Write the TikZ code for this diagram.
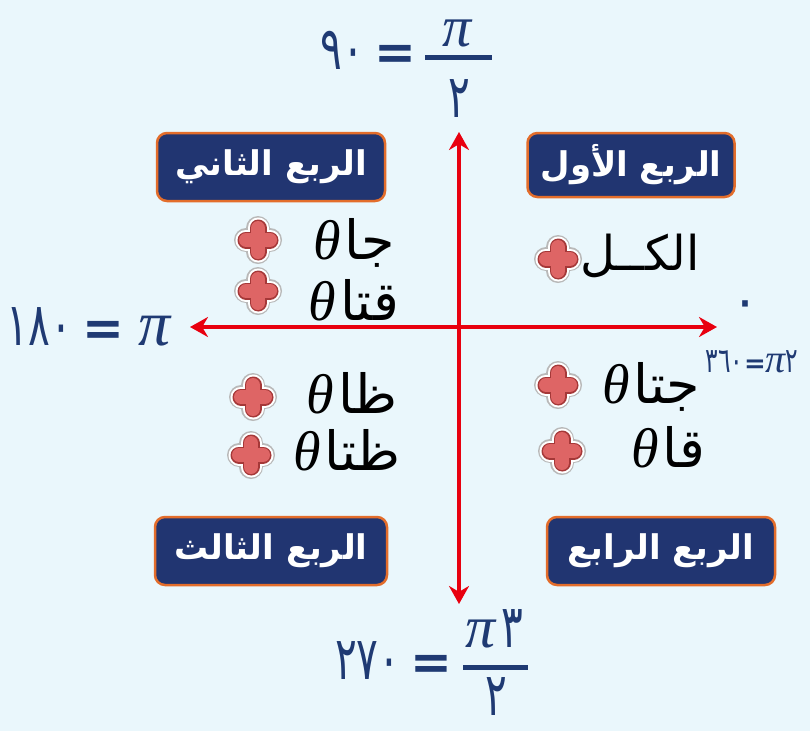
\documentclass[tikz,border=0pt]{standalone}
\usepackage{fontspec}
\usetikzlibrary{positioning, arrows.meta}
\TeXXeTstate=1
\newfontfamily\arabicfont[Script=Arabic]{DejaVu Sans}
\newfontfamily\greekfont{Liberation Serif}
\definecolor{bgblue}{HTML}{EAF7FC}
\definecolor{axisred}{HTML}{E8000F}
\definecolor{boxblue}{HTML}{213571}
\definecolor{boxedge}{HTML}{E36D2B}
\definecolor{labelblue}{HTML}{1F3A73}
\definecolor{plusred}{HTML}{DE6565}
\definecolor{plusdark}{HTML}{A53838}
\newcommand{\thetaglyph}{{\greekfont\mdseries\itshape\fontsize{56}{60}\selectfont θ}}
\newcommand{\piglyph}[1][64]{{\greekfont\mdseries\itshape\fontsize{#1}{#1}\selectfont π}}
\newcommand{\arb}[1]{{\arabicfont\beginR #1\endR}}
\newcommand{\arnum}[1]{\scalebox{0.78}[1.15]{#1}}

\begin{document}
\begin{tikzpicture}[
        x=1pt, y=-1pt,
        >={Stealth[length=18pt, width=20pt]},
        axis/.style={draw=axisred, line width=4pt},
        quadbox/.style={draw=boxedge, fill=boxblue, line width=2.5pt, rounded corners=10pt,
            minimum width=228pt, minimum height=68pt, text=white,
            font=\arabicfont\bfseries\fontsize{34}{40}\selectfont},
        trig/.style={inner sep=0pt, font=\arabicfont\fontsize{54}{58}\selectfont},
        axlabel/.style={inner sep=0pt, text=labelblue, font=\arabicfont\fontsize{52}{56}\selectfont},
        eqsign/.style={inner sep=0pt, text=labelblue, font=\arabicfont\bfseries\fontsize{50}{50}\selectfont},
        fracbar/.style={draw=labelblue, line width=5pt},
        plusmark/.style={circle, minimum size=50pt, inner sep=0pt,
            path picture={
                \foreach \w/\c in {24/gray!55, 21/white, 17/plusdark, 14/plusred}
                    \draw[line width=\w pt, draw=\c, line cap=round]
                        (path picture bounding box.center) ++(-12,0) -- ++(24,0)
                        (path picture bounding box.center) ++(0,-12) -- ++(0,24);
            }}
    ]
        \useasboundingbox (0,0) rectangle (810,731);
        \fill[bgblue] (0,0) rectangle (810,731);

        % axes
        \coordinate (xl) at (190,327);
        \coordinate (xr) at (717,327);
        \coordinate (yt) at (459,132);
        \coordinate (yb) at (459,604);
        \draw[axis, <->] (xl) -- (xr);
        \draw[axis, <->] (yt) -- (yb);

        % quadrants
        \node (q1) [quadbox, minimum width=207pt, minimum height=64pt] at (631,165) {\arb{الربع الأول}};
        \node (q2) [quadbox] at (271,167) {\arb{الربع الثاني}};
        \node (q3) [quadbox, minimum width=232pt] at (271,551) {\arb{الربع الثالث}};
        \node (q4) [quadbox] at (661,551) {\arb{الربع الرابع}};

        % signs
        \node (p1) [plusmark] at (558,259) {};
        \node (p2a) [plusmark] at (258,240) {};
        \node (p2b) [plusmark] at (258,291) {};
        \node (p3a) [plusmark] at (253,397) {};
        \node (p3b) [plusmark] at (251,455) {};
        \node (p4a) [plusmark] at (558,385) {};
        \node (p4b) [plusmark] at (562,451) {};

        \node (t1) [trig, font=\arabicfont\fontsize{48}{52}\selectfont] at (640,256) {\arb{الكــل}};
        \node (t2a) [trig] at (354,243) {\thetaglyph\hspace{4pt}\arb{جا}};
        \node (t2b) [trig] at (354,300) {\thetaglyph\hspace{4pt}\arb{قتا}};
        \node (t3a) [trig] at (352,393) {\thetaglyph\hspace{4pt}\arb{ظا}};
        \node (t3b) [trig] at (347,450) {\thetaglyph\hspace{4pt}\arb{ظتا}};
        \node (t4a) [trig] at (651,387) {\thetaglyph\hspace{4pt}\arb{جتا}};
        \node (t4b) [trig] at (668,447) {\thetaglyph\hspace{4pt}\arb{قا}};

        % angle labels
        \node (pi90) [axlabel, anchor=base] at (457,46) {\piglyph[58]};
        \coordinate (bar90l) at (425,57);
        \coordinate (bar90r) at (492,57);
        \draw[fracbar] (bar90l) -- (bar90r);
        \node (den90) [axlabel] at (459,99) {\arnum{٢}};
        \node (eq90) [eqsign, left=8pt of bar90l] {=};
        \node (n90) [axlabel, base left=10pt of eq90] {\arnum{٩٠}};

        \node (pi180) [axlabel, anchor=base] at (155,345) {\piglyph};
        \node (eq180) [eqsign, base left=14pt of pi180] {=};
        \node (n180) [axlabel, base left=10pt of eq180] {\arnum{١٨٠}};

        \node (n0) [axlabel] at (745,310) {٠};
        \node (n360) [axlabel, font=\arabicfont\fontsize{30}{32}\selectfont] at (752,362)
            {\arnum{٣٦٠}\hspace{1pt}{\bfseries\fontsize{26}{26}\selectfont=}\piglyph[40]\arnum{٢}};

        \node (pi270) [axlabel, anchor=base] at (494,647) {\piglyph[60]\hspace{6pt}\arnum{٣}};
        \coordinate (bar270l) at (463,667);
        \coordinate (bar270r) at (528,667);
        \draw[fracbar] (bar270l) -- (bar270r);
        \node (den270) [axlabel] at (496,697) {\arnum{٢}};
        \node (eq270) [eqsign, left=10pt of bar270l] {=};
        \node (n270) [axlabel, base left=10pt of eq270] {\arnum{٢٧٠}};
    \end{tikzpicture}
\end{document}
